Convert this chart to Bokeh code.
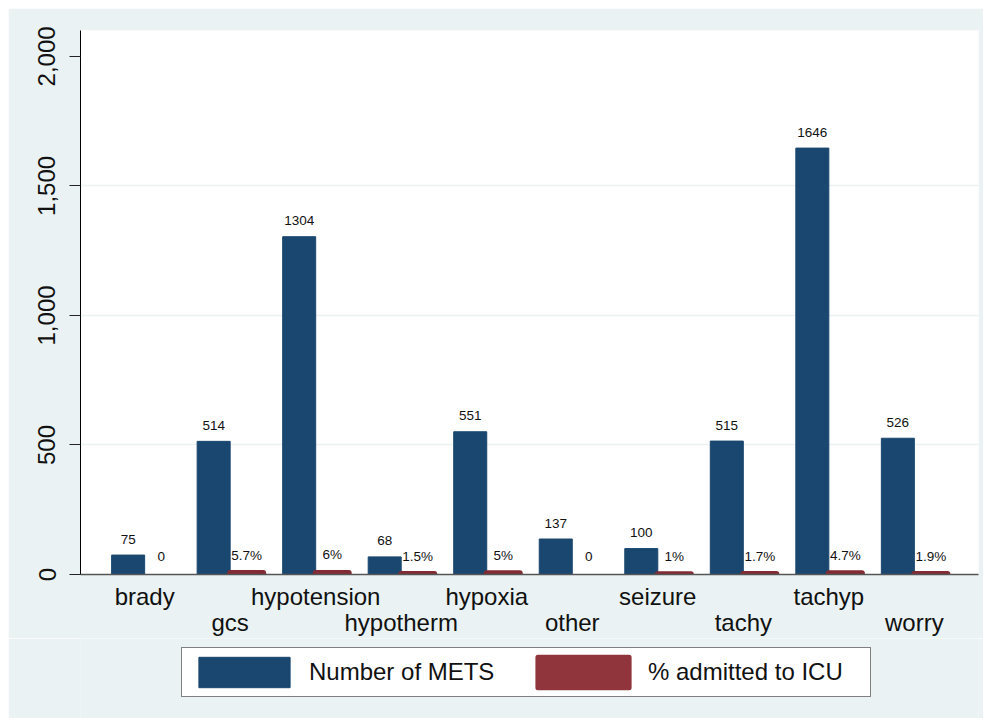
from bokeh.plotting import figure
from bokeh.layouts import column
from bokeh.models import (ColumnDataSource, FixedTicker, NumeralTickFormatter, LinearAxis,
                          Legend, LegendItem, Range1d)
from bokeh.core.properties import value
from bokeh.embed import file_html
from bokeh.resources import INLINE

# ---- data ----
categories = ["brady", "gcs", "hypotension", "hypotherm", "hypoxia",
              "other", "seizure", "tachy", "tachyp", "worry"]
mets = [75, 514, 1304, 68, 551, 137, 100, 515, 1646, 526]
icu_pct = [0, 5.7, 6, 1.5, 5, 0, 1, 1.7, 4.7, 1.9]
y_ticks = [0, 500, 1000, 1500, 2000]
series_names = ["Number of METS", "% admitted to ICU"]

# ---- style ----
BLUE = "#1A476F"
RED = "#90353B"
RED_LINE = "#832B34"
BG = "#EAF2F3"
FONT = "Liberation Sans"
TXT = "#111111"

idx = list(range(len(categories)))
bw = 0.386

blue_src = ColumnDataSource(dict(
    x=[i - bw / 2 for i in idx], top=mets, label=[str(m) for m in mets]))
red_bar_src = ColumnDataSource(dict(
    x=[i + bw / 2 for i, v in zip(idx, icu_pct) if v > 0],
    top=[v for v in icu_pct if v > 0]))
red_lab_src = ColumnDataSource(dict(
    x=[i + bw / 2 for i in idx], top=icu_pct,
    label=[("0" if v == 0 else f"{v:g}%") for v in icu_pct]))

# ---------------- main chart ----------------
p = figure(width=975, height=630, output_backend="svg", toolbar_location=None,
           x_range=Range1d(-0.75, len(categories) - 0.25), y_range=Range1d(0, 2100),
           min_border_left=72, min_border_right=5, min_border_top=22, min_border_bottom=62,
           background_fill_color="white", border_fill_color=BG, outline_line_color=None,
           margin=(8, 0, 0, 8))

p.vbar(x="x", top="top", width=bw, source=blue_src,
       fill_color=BLUE, line_color=BLUE, line_width=1)
p.vbar(x="x", top="top", width=bw, source=red_bar_src,
       fill_color=RED, line_color=RED_LINE, line_width=6, line_join="round")

p.text(x="x", y="top", text="label", source=blue_src, text_align="center",
       text_baseline="alphabetic", y_offset=-16, text_font=value(FONT),
       text_font_size="13.5px", text_color=TXT)
p.text(x="x", y="top", text="label", source=red_lab_src, text_align="center",
       text_baseline="alphabetic", y_offset=-18, text_font=value(FONT),
       text_font_size="13.5px", text_color=TXT)

# x axis: two alternating rows of labels
xa = p.xaxis[0]
xa.ticker = FixedTicker(ticks=idx[0::2])
xa.major_label_overrides = {i: categories[i] for i in idx[0::2]}
xa.major_tick_line_color = None
xa.minor_tick_line_color = None
xa.axis_line_color = "#555555"
xa.axis_line_width = 1.5
xa.major_label_standoff = 2
xa.major_label_text_font = FONT
xa.major_label_text_font_size = "24px"
xa.major_label_text_color = TXT

xa2 = LinearAxis(ticker=FixedTicker(ticks=idx[1::2]),
                 major_label_overrides={i: categories[i] for i in idx[1::2]},
                 axis_line_color=None, major_tick_line_color=None,
                 minor_tick_line_color=None, major_label_standoff=-10,
                 major_label_text_font=FONT, major_label_text_font_size="24px",
                 major_label_text_color=TXT)
p.add_layout(xa2, "below")

ya = p.yaxis[0]
ya.ticker = FixedTicker(ticks=y_ticks)
ya.formatter = NumeralTickFormatter(format="0,0")
ya.major_label_orientation = "vertical"
ya.major_tick_out = 11
ya.major_tick_in = 0
ya.minor_tick_line_color = None
ya.axis_line_color = "black"
ya.major_tick_line_color = "#222222"
ya.major_label_standoff = 14
ya.major_label_text_font = FONT
ya.major_label_text_font_size = "24px"
ya.major_label_text_color = TXT

p.xgrid.visible = False
p.ygrid.ticker = FixedTicker(ticks=y_ticks[1:-1])
p.ygrid.grid_line_color = BG
p.ygrid.grid_line_width = 1.5

# ---------------- legend strip ----------------
# its bar renderers are squeezed into a sliver that the opaque legend box covers
lg = figure(width=975, height=80, output_backend="svg", toolbar_location=None,
            x_range=Range1d(-2.5, 11.5), y_range=Range1d(-50000, 50000),
            x_axis_location=None, y_axis_location=None,
            min_border_left=0, min_border_right=0, min_border_top=0, min_border_bottom=0,
            background_fill_color=BG, border_fill_color=BG, outline_line_color=None,
            margin=(0, 0, 0, 8))
lg.xgrid.visible = False
lg.ygrid.visible = False
lb = lg.vbar(x="x", top="top", width=bw, source=blue_src,
             fill_color=BLUE, line_color=BLUE, line_width=1)
lr = lg.vbar(x="x", top="top", width=bw, source=red_bar_src,
             fill_color=RED, line_color=RED, line_width=5, line_join="round")

legend = Legend(items=[LegendItem(label=series_names[0], renderers=[lb]),
                       LegendItem(label=series_names[1], renderers=[lr])],
                orientation="horizontal", location=(101, 21),
                glyph_width=114, glyph_height=38, padding=5, label_standoff=8,
                label_width=217, spacing=0, margin=0,
                border_line_color="black", border_line_width=1.2,
                background_fill_color="white", background_fill_alpha=1,
                label_text_font=FONT, label_text_font_size="24px", label_text_color=TXT)
lg.add_layout(legend, "center")

layout = column(p, lg, spacing=0)
open("out.html", "w").write(file_html(layout, INLINE))
